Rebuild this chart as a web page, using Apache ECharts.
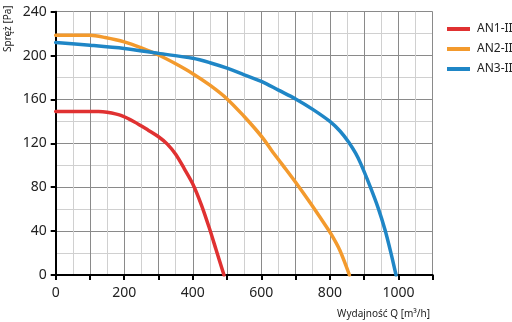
<!DOCTYPE html>
<html><head><meta charset="utf-8">
<script src="https://cdn.jsdelivr.net/npm/echarts@6/dist/echarts.min.js"></script>
<style>html,body{margin:0;padding:0;background:#fff}#c{width:512px;height:322px}</style>
</head><body><div id="c"></div>
<script>
const seriesNames = ['AN1-II', 'AN2-II', 'AN3-II'];
const colors = ['#e03131', '#f39a2d', '#1f86c6'];
const an1 = [[0,149],[50,149],[100,149],[125,149],[150,148.3],[190,145.5],[230,139.5],[270,132],[300,126],[325,119.5],[350,110],[375,97],[400,83],[425,64],[448,43],[468,23],[491,0]];
const an2 = [[0,218.5],[50,218.5],[100,218.5],[144,216.5],[200,212.5],[250,207],[300,200.5],[350,192.5],[400,183.5],[450,173],[500,160.5],[550,144.5],[580,134],[605,124.5],[630,113.5],[664,99.5],[700,84.5],[742,66],[781,48],[805,36.5],[829,22.5],[857,0]];
const an3 = [[0,212],[100,209.5],[200,206.5],[300,202],[400,197.5],[450,193.5],[500,188.5],[550,182.5],[600,176.5],[650,168.5],[700,160.5],[750,151],[800,140],[830,131],[855,121],[875,111],[890,101.5],[917,81],[941,61],[961,41],[977,21.5],[993,0]];
const xLabels = [0, 200, 400, 600, 800, 1000];
const yLabels = [0, 40, 80, 120, 160, 200, 240];
const xName = 'Wydajność Q [m³/h]';
const yName = 'Spręż [Pa]';

const chart = echarts.init(document.getElementById('c'), null, {renderer: 'canvas'});
const font = 'Noto Sans';
const data = [an1, an2, an3];
chart.setOption({
  animation: false,
  grid: {left: 55.7, right: 79.3, top: 11.7, bottom: 47},
  legend: {
    orient: 'vertical', left: 442, top: 18, itemWidth: 23, itemHeight: 4, itemGap: 8,
    icon: 'rect',
    textStyle: {fontFamily: font, fontSize: 12, color: '#222', padding: [0,0,0,2]},
    data: seriesNames
  },
  xAxis: {
    type: 'value', min: 0, max: 1100, interval: 100,
    axisLine: {show: true, onZero: false, lineStyle: {color: '#000', width: 2}},
    axisTick: {show: true, inside: false, length: 5, lineStyle: {color: '#000', width: 2}},
    axisLabel: {margin: 11, fontFamily: font, fontSize: 14, color: '#222',
      formatter: v => xLabels.includes(v) ? String(v) : ''},
    splitLine: {show: true, lineStyle: {color: '#8a8a8a', width: 1}},
    minorTick: {show: false, splitNumber: 2},
    minorSplitLine: {show: true, lineStyle: {color: '#d0d0d0', width: 1}}
  },
  yAxis: {
    type: 'value', min: 0, max: 240, interval: 40,
    axisLine: {show: true, onZero: false, lineStyle: {color: '#000', width: 2}},
    axisTick: {show: true, inside: false, length: 5, lineStyle: {color: '#000', width: 2}},
    axisLabel: {margin: 9, fontFamily: font, fontSize: 14, color: '#222',
      formatter: v => yLabels.includes(v) ? String(v) : ''},
    splitLine: {show: true, lineStyle: {color: '#8a8a8a', width: 1}},
    minorTick: {show: false, splitNumber: 2},
    minorSplitLine: {show: true, lineStyle: {color: '#d0d0d0', width: 1}}
  },
  graphic: [
    {type: 'text', x: 3, y: 52, rotation: Math.PI / 2,
      style: {text: yName, fontFamily: font, fontSize: 10, fill: '#222', align: 'left', verticalAlign: 'top'}},
    {type: 'text', x: 430, y: 314,
      style: {text: xName, fontFamily: font, fontSize: 10, fill: '#222', align: 'right', verticalAlign: 'middle'}}
  ],
  series: seriesNames.map((n, i) => ({
    name: n, type: 'line', data: data[i], smooth: 0.3, showSymbol: false, symbol: 'none',
    lineStyle: {color: colors[i], width: 3.5, cap: 'round', join: 'round'}, itemStyle: {color: colors[i]}, z: 3 + i
  }))
});
</script></body></html>
